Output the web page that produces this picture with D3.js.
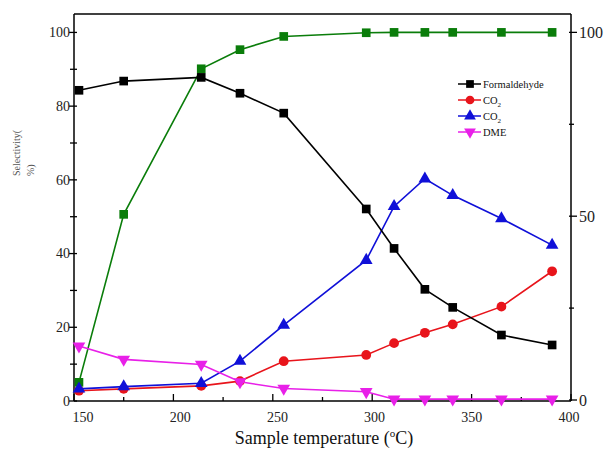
<!DOCTYPE html>
<html><head><meta charset="utf-8">
<script src="https://cdn.jsdelivr.net/npm/d3@7"></script>
<style>body{margin:0;background:#fff}svg{display:block}</style>
</head><body><svg id="c" width="604" height="449" font-family="'Liberation Serif', 'Times New Roman', Times, 'DejaVu Serif', serif"></svg>
<script>
const temperatures = [152.5, 175, 214, 233.5, 255.5, 297, 311, 326.5, 340.5, 365, 390.5];
const formaldehyde = [84.3, 86.8, 87.8, 83.5, 78.1, 52.1, 41.4, 30.3, 25.4, 17.9, 15.2];
const co2Red = [2.8, 3.3, 4.1, 5.4, 10.8, 12.5, 15.7, 18.5, 20.8, 25.6, 35.2];
const co2Blue = [3.3, 3.9, 4.8, 10.8, 20.6, 38.2, 52.8, 60.3, 55.8, 49.5, 42.3];
const dme = [14.9, 11.3, 9.9, 5.2, 3.4, 2.5, 0.5, 0.5, 0.5, 0.5, 0.5];
const conversion = [4.8, 50.5, 90.1, 95.3, 98.9, 99.9, 100, 100, 100, 100, 100];
const xTickLabels = [150, 200, 250, 300, 350, 400];
const leftTickLabels = [0, 20, 40, 60, 80, 100];
const rightTickLabels = [0, 50, 100];
const legendLabels = ["Formaldehyde", "CO2", "CO2", "DME"];

const svg = d3.select("#c");
const L = 74, R = 571, T = 14, B = 401;
const x = d3.scaleLinear().domain([150, 400]).range([L, R]);
const xLab = d3.scaleLinear().domain([150, 400]).range([83, 569]);
const y = d3.scaleLinear().domain([0, 105]).range([B, T]);
const yR = d3.scaleLinear().domain([0, 105]).range([B - 1, T]);

svg.append("line").attr("x1", L).attr("x2", R).attr("y1", T).attr("y2", T).attr("stroke", "#000").attr("stroke-width", 1.5);

const gx = svg.append("g").attr("transform", `translate(0,${B})`);
gx.append("line").attr("x1", L).attr("x2", R).attr("stroke", "#000").attr("stroke-width", 1.5);
const xt = d3.range(150, 401, 25);
gx.selectAll("line.t").data(xt).join("line").attr("class", "t")
  .attr("x1", d => x(d)).attr("x2", d => x(d)).attr("y1", 0).attr("y2", d => d % 50 === 0 ? -7 : -4)
  .attr("stroke", "#000").attr("stroke-width", 1.3);
gx.selectAll("text").data(xTickLabels).join("text")
  .attr("x", d => xLab(d)).attr("y", 21).attr("text-anchor", "middle")
  .attr("font-size", 14).attr("fill", "#222").text(d => d);

const gl = svg.append("g").attr("transform", `translate(${L},0)`);
gl.append("line").attr("y1", T).attr("y2", B).attr("stroke", "#000").attr("stroke-width", 1.5);
gl.selectAll("line.t").data(d3.range(0, 101, 10)).join("line").attr("class", "t")
  .attr("y1", d => y(d)).attr("y2", d => y(d)).attr("x1", d => d % 20 === 0 ? -5 : -4).attr("x2", 3)
  .attr("stroke", "#000").attr("stroke-width", 1.3);
gl.selectAll("text").data(leftTickLabels).join("text")
  .attr("x", -4).attr("y", d => y(d)).attr("dy", "0.35em").attr("text-anchor", "end")
  .attr("font-size", 14).attr("fill", "#222").text(d => d);

const gr = svg.append("g").attr("transform", `translate(${R},0)`);
gr.append("line").attr("y1", T).attr("y2", B).attr("stroke", "#000").attr("stroke-width", 1.5);
gr.selectAll("line.t").data(d3.range(0, 101, 25)).join("line").attr("class", "t")
  .attr("y1", d => yR(d)).attr("y2", d => yR(d)).attr("x1", -2).attr("x2", d => d % 50 === 0 ? 6 : 3)
  .attr("stroke", "#000").attr("stroke-width", 1.3);
gr.selectAll("text").data(rightTickLabels).join("text")
  .attr("x", 8).attr("y", d => yR(d)).attr("dy", "0.35em").attr("text-anchor", "start")
  .attr("font-size", 16).attr("fill", "#222").text(d => d);

const xl = svg.append("text").attr("x", 324).attr("y", 444).attr("text-anchor", "middle")
  .attr("font-size", 18).attr("fill", "#111");
xl.append("tspan").text("Sample temperature (");
xl.append("tspan").attr("font-size", 11).attr("dy", -7).text("o");
xl.append("tspan").attr("dy", 7).text("C)");
svg.append("text").attr("transform", "translate(20,176) rotate(-90)").attr("font-size", 10).attr("fill", "#555").text("Selectivity(");
svg.append("text").attr("transform", "translate(34,176) rotate(-90)").attr("font-size", 10).attr("fill", "#555").text("%)");

const series = [
  {vals: conversion, color: "#0a7d0a", sym: d3.symbolSquare, size: 75, sc: yR},
  {vals: co2Red, color: "#e8141b", sym: d3.symbolCircle, size: 75, sc: y},
  {vals: co2Blue, color: "#1010d8", sym: d3.symbolTriangle, size: 70, sc: y},
  {vals: dme, color: "#e820e8", sym: d3.symbolTriangle, size: 70, sc: y, rot: 180},
  {vals: formaldehyde, color: "#000", sym: d3.symbolSquare, size: 75, sc: y}
];
series.forEach(s => {
  const line = d3.line().x((d, i) => x(temperatures[i])).y(d => s.sc(d));
  svg.append("path").datum(s.vals).attr("d", line).attr("fill", "none").attr("stroke", s.color).attr("stroke-width", 1.6);
  svg.append("g").selectAll("path").data(s.vals).join("path")
    .attr("d", d3.symbol().type(s.sym).size(s.size))
    .attr("transform", (d, i) => `translate(${x(temperatures[i])},${s.sc(d)})` + (s.rot ? ` rotate(${s.rot})` : ""))
    .attr("fill", s.color);
});

const leg = [
  {color: "#000", sym: d3.symbolSquare, size: 60},
  {color: "#e8141b", sym: d3.symbolCircle, size: 60},
  {color: "#1010d8", sym: d3.symbolTriangle, size: 60},
  {color: "#e820e8", sym: d3.symbolTriangle, size: 60, rot: 180}
];
const ly = [84, 100, 116, 132];
leg.forEach((l, i) => {
  const g = svg.append("g").attr("transform", `translate(0,${ly[i]})`);
  g.append("line").attr("x1", 458).attr("x2", 481).attr("stroke", l.color).attr("stroke-width", 1.5);
  g.append("path").attr("d", d3.symbol().type(l.sym).size(l.size)()).attr("fill", l.color)
    .attr("transform", `translate(470,0)` + (l.rot ? " rotate(180)" : ""));
  const t = g.append("text").attr("x", 483).attr("y", 3.5).attr("font-size", 10.5).attr("fill", "#111");
  const lab = legendLabels[i];
  if (lab === "CO2") {
    t.append("tspan").text("CO");
    t.append("tspan").attr("font-size", 7).attr("dy", 3).text("2");
  } else t.text(lab);
});
</script></body></html>
